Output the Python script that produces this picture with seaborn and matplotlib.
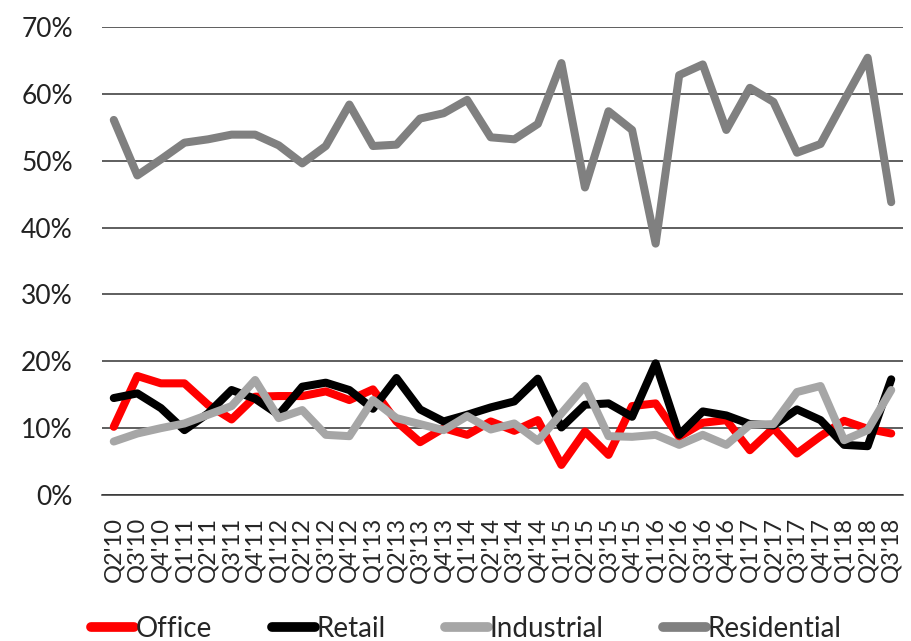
import matplotlib
matplotlib.use("Agg")
import matplotlib.pyplot as plt
import seaborn as sns
import pandas as pd
from matplotlib.ticker import FixedLocator, PercentFormatter

quarters = ["Q2'10", "Q3'10", "Q4'10",
            "Q1'11", "Q2'11", "Q3'11", "Q4'11",
            "Q1'12", "Q2'12", "Q3'12", "Q4'12",
            "Q1'13", "Q2'13", "Q3'13", "Q4'13",
            "Q1'14", "Q2'14", "Q3'14", "Q4'14",
            "Q1'15", "Q2'15", "Q3'15", "Q4'15",
            "Q1'16", "Q2'16", "Q3'16", "Q4'16",
            "Q1'17", "Q2'17", "Q3'17", "Q4'17",
            "Q1'18", "Q2'18", "Q3'18"]

office = [10.2, 17.8, 16.7, 16.7, 13.5, 11.3, 14.7, 14.8, 14.8, 15.5, 14.2, 15.8,
          11.0, 7.9, 10.0, 9.0, 11.0, 9.6, 11.2, 4.5, 9.5, 6.0, 13.3, 13.7,
          8.7, 10.8, 11.2, 6.7, 10.0, 6.2, 8.8, 11.1, 9.9, 9.2]
retail = [14.5, 15.2, 13.0, 9.7, 12.2, 15.7, 14.4, 12.0, 16.2, 16.8, 15.7, 12.9,
          17.5, 12.8, 11.0, 12.0, 13.1, 14.0, 17.4, 10.1, 13.5, 13.7, 11.7, 19.7,
          9.0, 12.5, 11.9, 10.6, 10.4, 12.8, 11.2, 7.5, 7.3, 17.3]
industrial = [8.0, 9.2, 10.0, 10.7, 12.0, 13.3, 17.2, 11.5, 12.7, 9.0, 8.8, 14.2,
              11.5, 10.6, 9.7, 11.8, 9.8, 10.7, 8.1, 12.2, 16.3, 8.8, 8.7, 9.0,
              7.5, 9.0, 7.5, 10.5, 10.6, 15.4, 16.3, 8.2, 9.7, 15.7]
residential = [56.1, 47.8, 50.2, 52.7, 53.2, 53.9, 53.9, 52.3, 49.6, 52.2, 58.4, 52.2,
               52.4, 56.3, 57.1, 59.1, 53.5, 53.2, 55.5, 64.6, 46.0, 57.4, 54.6, 37.6,
               62.8, 64.4, 54.6, 60.9, 58.8, 51.2, 52.5, 59.0, 65.4, 43.8]

series_names = ["Office", "Retail", "Industrial", "Residential"]
series_colors = ["#FF0000", "#000000", "#A6A6A6", "#808080"]

frames = []
for name, vals in zip(series_names, [office, retail, industrial, residential]):
    frames.append(pd.DataFrame({"quarter": quarters, "share": vals, "type": name}))
df = pd.concat(frames, ignore_index=True)

sns.set_style("white")
plt.rcParams["font.family"] = ["Lato", "DejaVu Sans"]

fig = plt.figure(figsize=(9.11, 6.41), dpi=100)
ax = fig.add_axes([102 / 911, 1 - 495 / 641, 801 / 911, (495 - 27) / 641])

sns.lineplot(data=df, x="quarter", y="share", hue="type", hue_order=series_names,
             palette=series_colors, linewidth=5.8, sort=False, ax=ax, legend=False,
             solid_capstyle="round", solid_joinstyle="round")

ax.set_xlim(-0.5, len(quarters) - 0.5)
ax.set_ylim(0, 70)
ax.set_yticks(range(0, 71, 10))
ax.yaxis.set_major_formatter(PercentFormatter(decimals=0))
ax.grid(axis="y", color="#333333", linewidth=1.1)
ax.grid(axis="x", visible=False)
ax.set_axisbelow(True)

for side in ["left", "right", "top"]:
    ax.spines[side].set_visible(False)
ax.spines["bottom"].set_color("#333333")
ax.spines["bottom"].set_linewidth(1.1)

ax.set_xticks(range(len(quarters)))
ax.set_xticklabels(quarters, rotation=90, fontsize=17)
ax.xaxis.set_minor_locator(FixedLocator([i - 0.5 for i in range(len(quarters) + 1)]))
ax.tick_params(axis="x", which="major", length=0, pad=16)
ax.tick_params(axis="x", which="minor", length=7, width=1, color="#333333", direction="out")
ax.tick_params(axis="y", length=0, labelsize=19, pad=21, labelcolor="#222222")
ax.set_xlabel("")
ax.set_ylabel("")

handles = [plt.Line2D([0], [0], color=c, linewidth=7, solid_capstyle="round")
           for c in series_colors]
fig.legend(handles, series_names, loc="center", bbox_to_anchor=(0.512, 0.019),
           ncol=4, frameon=False, fontsize=20, handlelength=1.55, handletextpad=0.05,
           columnspacing=2.15, borderpad=0)

fig.savefig("out.png", dpi=100)
